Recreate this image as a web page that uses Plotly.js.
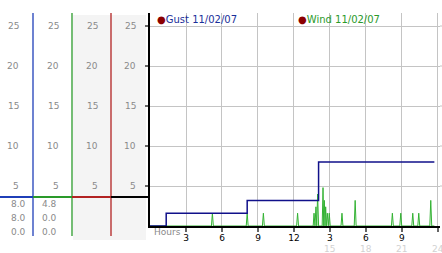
<!DOCTYPE html>
<html>
<head>
<meta charset="utf-8">
<script src="https://cdn.plot.ly/plotly-3.0.1.min.js"></script>
<style>html,body{margin:0;padding:0;background:#fff;}#chart{width:442px;height:253px;}</style>
</head>
<body>
<div id="chart"></div>
<script>
// ---- data (hours since midnight, speeds) ----
const gustHours = [0, 1.35, 8.1, 14.05, 23.7];
const gustSpeed = [0, 1.6, 3.2, 8.0, 8.0];

const windHours = [0,
  5.12, 5.2, 5.28,
  8.02, 8.1, 8.18,
  9.37, 9.45, 9.53,
  12.22, 12.3, 12.38,
  13.6, 13.67, 13.75, 13.83, 13.9, 13.97, 14.05,
  14.35, 14.42, 14.48, 14.53, 14.59, 14.64, 14.71, 14.78, 14.86, 14.94, 15.02,
  15.92, 16.0, 16.08,
  17.02, 17.1, 17.18,
  20.12, 20.2, 20.28,
  20.82, 20.9, 20.98,
  21.82, 21.9, 21.98,
  22.32, 22.4, 22.48,
  23.32, 23.4, 23.48,
  23.7];
const windSpeed = [0,
  0, 1.6, 0,
  0, 1.6, 0,
  0, 1.6, 0,
  0, 1.6, 0,
  0, 1.6, 0, 2.4, 0, 4.0, 0,
  0, 4.8, 0, 3.2, 0, 2.4, 0, 1.6, 0, 1.6, 0,
  0, 1.6, 0,
  0, 3.2, 0,
  0, 1.6, 0,
  0, 1.6, 0,
  0, 1.6, 0,
  0, 1.6, 0,
  0, 3.2, 0,
  0];

const xTickVals = [3, 6, 9, 12, 15, 18, 21, 24];
const xTickText = ['3', '6', '9', '12', '3', '6', '9', '12'];
const secondDayVals = [15, 18, 21, 24];
const secondDayText = ['15', '18', '21', '24'];
const yTickVals = [5, 10, 15, 20, 25];
const gustLabel = 'Gust 11/02/07';
const windLabel = 'Wind 11/02/07';

// ---- helpers ----
const W = 442, H = 253;
const px = x => x / W;
const py = y => (H - y) / H;
const FONT = 'DejaVu Sans, Verdana, sans-serif';
const GRAY = '#8a8a8a';

function stats(a) {
  return [Math.max(...a), a[a.length - 1], Math.min(...a)];
}

const traces = [
  {x: windHours, y: windSpeed, type: 'scatter', mode: 'lines',
   line: {color: '#33b233', width: 1}, hoverinfo: 'skip', cliponaxis: true},
  {x: gustHours, y: gustSpeed, type: 'scatter', mode: 'lines',
   line: {color: '#10108a', width: 1.5, shape: 'hv'}, hoverinfo: 'skip'}
];

const shapes = [];
const line = (x0, y0, x1, y1, color, w) => shapes.push({type: 'line', xref: 'paper', yref: 'paper',
  x0: px(x0), y0: py(y0), x1: px(x1), y1: py(y1), line: {color: color, width: w}, layer: 'above'});
shapes.push({type: 'rect', xref: 'paper', yref: 'paper', x0: px(73), x1: px(146), y0: py(240), y1: py(15),
  fillcolor: '#f4f4f4', line: {width: 0}, layer: 'below'});
const colColors = ['#1f3fb8', '#2a9a2a', '#b22222'];
const colLines = [33, 72, 111];
colLines.forEach((x, i) => line(x, 13, x, 236, colColors[i], 1.3));
line(0, 197, 33, 197, colColors[0], 2);
line(33, 197, 72, 197, colColors[1], 2);
line(72, 197, 111, 197, colColors[2], 2);
line(111, 197, 149, 197, '#000', 2);
// grid continues to right edge of the picture
yTickVals.forEach(v => shapes.push({type: 'line', xref: 'paper', yref: 'y', x0: px(440), x1: px(442), y0: v, y1: v,
  line: {color: '#c4c4c4', width: 1}, layer: 'below'}));

const annotations = [];
const colRight = [21, 61, 100, 138];
colRight.forEach(r => yTickVals.forEach(v => annotations.push({
  xref: 'paper', yref: 'y', x: px(r), y: v, xanchor: 'right', yanchor: 'middle',
  text: String(v), showarrow: false, font: {family: FONT, size: 9, color: GRAY}})));

const tableRows = [204, 218, 232];
const tableCols = [18, 49];
[stats(gustSpeed), stats(windSpeed)].forEach((s, c) => s.forEach((v, r) => annotations.push({
  xref: 'paper', yref: 'paper', x: px(tableCols[c]), y: py(tableRows[r]), xanchor: 'center', yanchor: 'middle',
  text: v.toFixed(1), showarrow: false, font: {family: FONT, size: 9, color: GRAY}})));

secondDayVals.forEach((v, i) => annotations.push({
  xref: 'x', yref: 'paper', x: v, y: py(248.5), xanchor: 'center', yanchor: 'middle',
  text: secondDayText[i], showarrow: false, font: {family: FONT, size: 9, color: '#d2d2d2'}}));

annotations.push({xref: 'paper', yref: 'paper', x: px(152), y: py(232), xanchor: 'left', yanchor: 'middle',
  text: 'Hours', showarrow: false, font: {family: FONT, size: 9, color: GRAY}});

annotations.push({xref: 'paper', yref: 'paper', x: px(155), y: py(20), xanchor: 'left', yanchor: 'middle',
  text: "<span style='color:#8b0000'>●</span>" + gustLabel, showarrow: false,
  font: {family: FONT, size: 10, color: '#1a2f9a'}});
annotations.push({xref: 'paper', yref: 'paper', x: px(296), y: py(20), xanchor: 'left', yanchor: 'middle',
  text: "<span style='color:#8b0000'>●</span>" + windLabel, showarrow: false,
  font: {family: FONT, size: 10, color: '#2a9a2a'}});

const layout = {
  width: W, height: H,
  margin: {l: 0, r: 0, t: 0, b: 0, pad: 0},
  paper_bgcolor: '#fff', plot_bgcolor: '#fff',
  showlegend: false,
  xaxis: {domain: [px(150), px(440)], range: [0, 24.17], tickvals: xTickVals, ticktext: xTickText,
    showgrid: true, gridcolor: '#c4c4c4', gridwidth: 1, zeroline: false,
    showline: true, linecolor: '#000', linewidth: 2, layer: 'below traces',
    ticks: 'outside', ticklen: 4, tickwidth: 2, tickcolor: '#666', ticklabelstandoff: -2,
    tickfont: {family: FONT, size: 9, color: '#000'}, automargin: false, fixedrange: true},
  yaxis: {domain: [py(226), py(13)], range: [0, 26.625], tickvals: yTickVals, showticklabels: false,
    showgrid: true, gridcolor: '#c4c4c4', gridwidth: 1, zeroline: false,
    showline: true, linecolor: '#000', linewidth: 2, layer: 'below traces',
    ticks: 'outside', ticklen: 3, tickwidth: 2, tickcolor: '#666', automargin: false, fixedrange: true},
  shapes: shapes,
  annotations: annotations
};

Plotly.newPlot('chart', traces, layout, {staticPlot: true, displayModeBar: false});
</script>
</body>
</html>
